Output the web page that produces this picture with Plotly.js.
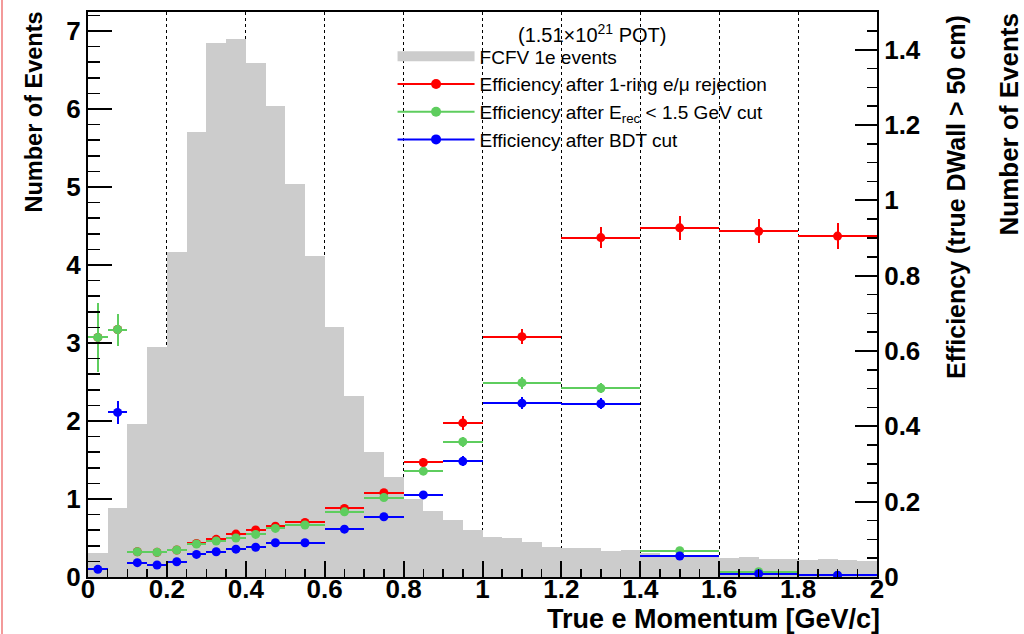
<!DOCTYPE html>
<html>
<head>
<meta charset="utf-8">
<script src="https://cdn.plot.ly/plotly-3.0.1.min.js"></script>
<style>
html,body{margin:0;padding:0;background:#fff;}
#chart{width:1024px;height:634px;}
#chart .errorbar path{shape-rendering:crispEdges;}
</style>
</head>
<body>
<div id="chart"></div>
<script>
// ---- Data ----
const histCenters = [0.025,0.075,0.125,0.175,0.225,0.275,0.325,0.375,0.425,0.475,
  0.525,0.575,0.625,0.675,0.725,0.775,0.825,0.875,0.925,0.975,
  1.025,1.075,1.125,1.175,1.225,1.275,1.325,1.375,1.425,1.475,
  1.525,1.575,1.625,1.675,1.725,1.775,1.825,1.875,1.925,1.975];
const histCounts = [0.31,0.88,1.96,2.95,4.17,5.70,6.85,6.90,6.59,6.04,
  5.04,4.12,3.21,2.32,1.60,1.28,1.00,0.85,0.73,0.60,
  0.51,0.50,0.45,0.385,0.37,0.37,0.335,0.34,0.31,0.27,
  0.27,0.27,0.24,0.26,0.23,0.23,0.22,0.225,0.22,0.21];
const histBinWidth = 0.05;

const effCenters = [0.025,0.075,0.125,0.175,0.225,0.275,0.325,0.375,0.425,0.475,
  0.55,0.65,0.75,0.85,0.95,1.1,1.3,1.5,1.7,1.9];
const effHalfWidths = [0.025,0.025,0.025,0.025,0.025,0.025,0.025,0.025,0.025,0.025,
  0.05,0.05,0.05,0.05,0.05,0.1,0.1,0.1,0.1,0.1];

const redEff = [0.636,0.657,0.067,0.0655,0.0716,0.089,0.100,0.114,0.125,0.135,
  0.145,0.182,0.224,0.304,0.409,0.638,0.901,0.927,0.918,0.905];
const redErr = [0.0915,0.0425,0.008,0.008,0.007,0.008,0.008,0.008,0.008,0.008,
  0.007,0.008,0.009,0.011,0.018,0.020,0.027,0.031,0.032,0.0345];

const greenEff = [0.636,0.657,0.067,0.0655,0.0716,0.0875,0.0955,0.1034,0.113,0.129,
  0.138,0.173,0.211,0.281,0.359,0.516,0.501,0.070,0.014,0.004];
const greenErr = [0.0915,0.0425,0.008,0.008,0.007,0.007,0.007,0.007,0.007,0.007,
  0.006,0.007,0.008,0.010,0.013,0.016,0.013,0.008,0.006,0.004];

const blueEff = [0.0204,0.437,0.038,0.032,0.0406,0.060,0.067,0.074,0.079,0.091,
  0.091,0.127,0.160,0.218,0.307,0.4615,0.460,0.0557,0.0088,0.0045];
const blueErr = [0.006,0.031,0.007,0.006,0.006,0.006,0.006,0.006,0.006,0.006,
  0.005,0.006,0.007,0.009,0.013,0.016,0.015,0.008,0.004,0.003];

const names = ["FCFV 1e events",
  "Efficiency after 1-ring e/\u03bc rejection",
  "Efficiency after E<sub>rec</sub> < 1.5 GeV cut",
  "Efficiency after BDT cut"];
const colors = {hist:"#cccccc", red:"#ff0000", green:"#5ecd5e", blue:"#0000ff"};

// ---- Traces ----
function effTrace(y, err, color) {
  return {
    type:"scatter", mode:"markers", x:effCenters, y:y, yaxis:"y2",
    marker:{color:color, size:9},
    error_x:{type:"data", array:effHalfWidths, visible:true, color:color, thickness:2, width:0},
    error_y:{type:"data", array:err, visible:true, color:color, thickness:2, width:0},
    showlegend:false, hoverinfo:"x+y"
  };
}
function legendTrace(name, color, mode, lw, ms) {
  return {type:"scatter", mode:mode, x:[null], y:[null], yaxis:"y2", name:name,
    line:{color:color, width:lw}, marker:{color:color, size:ms}, showlegend:true};
}

const traces = [
  {type:"bar", x:histCenters, y:histCounts, width:histBinWidth, name:names[0],
   marker:{color:colors.hist, line:{width:0}}, showlegend:false},
  effTrace(redEff, redErr, colors.red),
  effTrace(greenEff, greenErr, colors.green),
  effTrace(blueEff, blueErr, colors.blue),
  legendTrace(names[0], colors.hist, "lines", 19, 1),
  legendTrace(names[1], colors.red, "lines+markers", 2, 10),
  legendTrace(names[2], colors.green, "lines+markers", 2, 10),
  legendTrace(names[3], colors.blue, "lines+markers", 2, 10)
];

const FAM = "Liberation Sans, Arial, Helvetica, sans-serif";
const tickFont = {family:FAM, size:26, color:"#000", weight:"bold"};

const layout = {
  width:1024, height:634,
  margin:{l:88, r:147, t:12, b:57, pad:0},
  paper_bgcolor:"#fff", plot_bgcolor:"#fff",
  bargap:0, showlegend:true,
  font:{family:FAM, color:"#000"},
  xaxis:{range:[0,2], dtick:0.2, tick0:0, ticks:"inside", ticklen:16, tickwidth:2, tickcolor:"#000",
    minor:{dtick:0.05, ticks:"inside", ticklen:8, tickwidth:1.5, tickcolor:"#000", showgrid:false},
    showgrid:true, gridcolor:"#000", griddash:"dot", gridwidth:1,
    showline:true, linecolor:"#000", linewidth:2, mirror:true, zeroline:false,
    tickfont:tickFont, ticklabelstandoff:-12, fixedrange:true},
  yaxis:{range:[0,7.244], dtick:1, tick0:0, ticks:"inside", ticklen:24, tickwidth:2, tickcolor:"#000",
    minor:{dtick:0.2, ticks:"inside", ticklen:12, tickwidth:1.5, tickcolor:"#000", showgrid:false},
    showgrid:false, zeroline:false, showline:true, linecolor:"#000", linewidth:2,
    tickfont:tickFont, fixedrange:true},
  yaxis2:{overlaying:"y", side:"right", range:[0,1.5], dtick:0.2, tick0:0,
    ticks:"inside", ticklen:22, tickwidth:2, tickcolor:"#000",
    minor:{dtick:0.05, ticks:"inside", ticklen:10, tickwidth:1.5, tickcolor:"#000", showgrid:false},
    showgrid:false, zeroline:false, showline:true, linecolor:"#000", linewidth:2,
    tickfont:tickFont, fixedrange:true},
  legend:{x:0.386, y:0.955, xanchor:"left", yanchor:"top", bgcolor:"rgba(255,255,255,0)",
    font:{family:FAM, size:19, color:"#000"},
    itemwidth:77, traceorder:"normal", tracegroupgap:0},
  annotations:[
    {text:"(1.51\u00d710<sup>21</sup> POT)", xref:"paper", yref:"paper", x:(592-88)/789, y:(577-33)/565,
     xanchor:"center", yanchor:"middle", showarrow:false,
     font:{family:FAM, size:20, color:"#000"}},
    {text:"True e Momentum [GeV/c]", xref:"paper", yref:"paper", x:1.005, y:(577-618.5)/565,
     xanchor:"right", yanchor:"middle", showarrow:false, borderpad:0,
     font:{family:FAM, size:27, color:"#000", weight:"bold"}},
    {text:"Number of Events", xref:"paper", yref:"paper", x:(33-88)/789, y:(577-11)/565,
     xanchor:"center", yanchor:"top", textangle:-90, showarrow:false, borderpad:0,
     font:{family:FAM, size:23.5, color:"#000", weight:"bold"}},
    {text:"Efficiency (true DWall > 50 cm)", xref:"paper", yref:"paper", x:(956-88)/789, y:(577-14)/565,
     xanchor:"center", yanchor:"top", textangle:-90, showarrow:false, borderpad:0,
     font:{family:FAM, size:25, color:"#000", weight:"bold"}},
    {text:"Number of Events", xref:"paper", yref:"paper", x:(1008-88)/789, y:(577-12)/565,
     xanchor:"center", yanchor:"top", textangle:-90, showarrow:false, borderpad:0,
     font:{family:FAM, size:26, color:"#000", weight:"bold"}}
  ],
  shapes:[
    {type:"line", xref:"paper", yref:"paper", x0:(2-88)/789, x1:(2-88)/789, y0:(577-634)/565, y1:577/565,
     line:{color:"#f39a9a", width:2}}
  ]
};

Plotly.newPlot("chart", traces, layout, {displayModeBar:false, staticPlot:true});
</script>
</body>
</html>
